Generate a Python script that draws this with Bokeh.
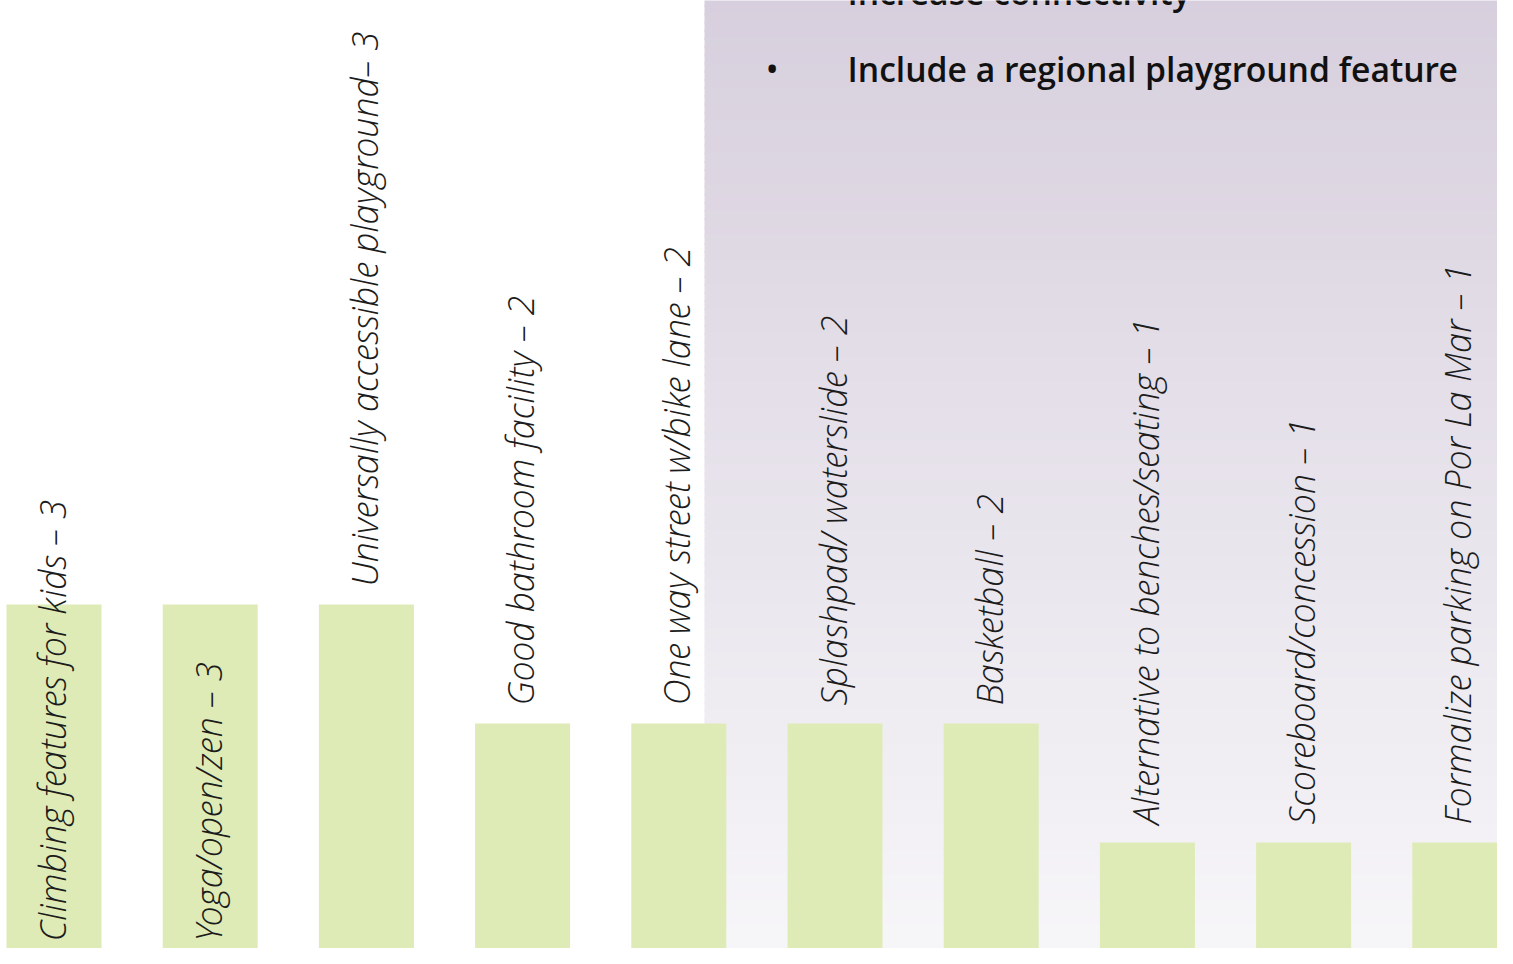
import numpy as np
from bokeh.plotting import figure
from bokeh.models import Range1d, ColumnDataSource, Label
from bokeh.core.properties import value
from bokeh.embed import file_html
from bokeh.resources import INLINE

# ---- data ----
categories = [
    "Climbing features for kids",
    "Yoga/open/zen",
    "Universally accessible playground",
    "Good bathroom facility",
    "One way street w/bike lane",
    "Splashpad/ waterslide",
    "Basketball",
    "Alternative to benches/seating",
    "Scoreboard/concession",
    "Formalize parking on Por La Mar",
]
counts = [3, 3, 3, 2, 2, 2, 2, 1, 1, 1]
labels = [
    "Climbing features for kids \u2013 3",
    "Yoga/open/zen \u2013 3",
    "Universally accessible playground\u2013 3",
    "Good bathroom facility \u2013 2",
    "One way street w/bike lane \u2013 2",
    "Splashpad/ waterslide \u2013 2",
    "Basketball  \u2013 2",
    "Alternative to benches/seating  \u2013 1",
    "Scoreboard/concession  \u2013 1",
    "Formalize parking on Por La Mar \u2013 1",
]
label_inside = [True, True, False, False, False, False, False, False, False, False]
bullets = ["Increase connectivity", "Include a regional playground feature"]

# ---- layout (pixel geometry) ----
W, H = 1497, 948
X0_PX, STEP_PX = 53.5, 156.2   # centre of first bar, spacing
BASE_PX, UNIT_PX = 961.0, 119.0

def px_x(px):
    return (px - X0_PX) / STEP_PX

def px_y(py):
    return (BASE_PX - py) / UNIT_PX

p = figure(width=W, height=H, output_backend="svg", toolbar_location=None,
           x_range=Range1d(px_x(0), px_x(W)),
           y_range=Range1d(px_y(H), px_y(0)),
           min_border=0, background_fill_color="white", border_fill_color="white")
p.axis.visible = False
p.grid.visible = False
p.outline_line_color = None

# ---- gradient panel (decoration) ----
n = 120
top_c = np.array([215, 207, 221])
bot_c = np.array([247, 246, 249])
edges = np.linspace(-20, 964, n + 1)
cols = []
for k in range(n):
    t = (edges[k] + edges[k + 1]) / 2 / 964
    c = top_c + (bot_c - top_c) * min(max(t, 0), 1)
    cols.append("#%02x%02x%02x" % tuple(int(round(v)) for v in c))
panel = ColumnDataSource(dict(
    left=[px_x(704)] * n, right=[px_x(1505)] * n,
    top=[px_y(edges[k]) for k in range(n)],
    bottom=[px_y(edges[k + 1] + 2) for k in range(n)],
    color=cols))
p.quad(left="left", right="right", top="top", bottom="bottom",
       fill_color="color", line_color=None, source=panel)

# ---- bars ----
idx = list(range(len(categories)))
src = ColumnDataSource(dict(x=idx, top=counts, cat=categories))
p.vbar(x="x", top="top", bottom=0, width=95 / STEP_PX, source=src,
       fill_color="#dfebb6", line_color=None)

# ---- rotated labels ----
ly = [20 / UNIT_PX if inside else c + 18 / UNIT_PX for c, inside in zip(counts, label_inside)]
lsrc = ColumnDataSource(dict(x=idx, y=ly, text=labels))
p.text(x="x", y="y", text="text", source=lsrc, angle=np.pi / 2,
       x_offset=-2, text_align="left", text_baseline="alphabetic",
       text_font=value("'Open Sans Light', 'Open Sans'"), text_font_style="italic",
       text_font_size="36px", text_color="#1c1c1c")

# ---- bullet text ----
for t, base in zip(bullets, [-9, 68]):
    p.add_layout(Label(x=847, y=H - base, x_units="screen", y_units="screen",
                       text=t, text_font="'Open Sans SemiBold', 'Open Sans'", text_font_size="33.7px",
                       text_color="#111111", text_baseline="alphabetic"))
    p.add_layout(Label(x=766, y=H - base, x_units="screen", y_units="screen",
                       text="\u2022", text_font="'Open Sans SemiBold', 'Open Sans'", text_font_size="30px",
                       text_color="#111111", text_baseline="alphabetic"))

open("out.html", "w").write(file_html(p, INLINE))
